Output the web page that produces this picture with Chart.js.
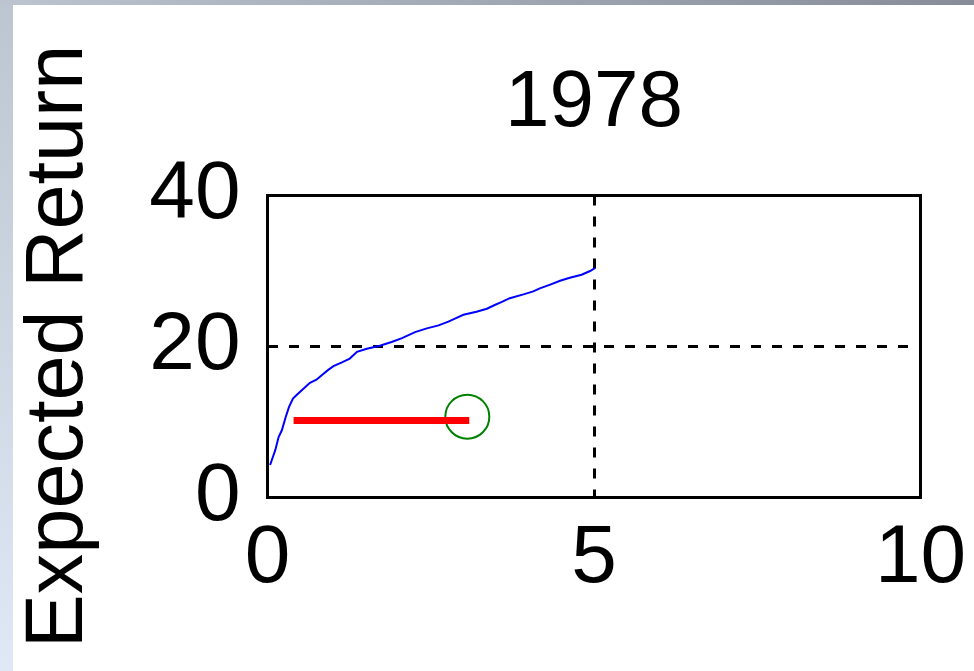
<!DOCTYPE html>
<html>
<head>
<meta charset="utf-8">
<script src="https://cdn.jsdelivr.net/npm/chart.js@4.4.1/dist/chart.umd.min.js"></script>
<style>
  html, body { margin: 0; padding: 0; width: 974px; height: 671px; overflow: hidden; background: #fff; }
  #leftEdge { position: absolute; left: 0; top: 0; width: 13px; height: 671px; background: linear-gradient(#bdc5d1, #dfe8f4); }
  #topEdge { position: absolute; left: 0; top: 0; width: 974px; height: 5px; background: linear-gradient(to right, #bcc4d0, #868d99); }
  #wrap { position: absolute; left: 13px; top: 5px; width: 961px; height: 666px; background: #fff; }
</style>
</head>
<body>
<div id="leftEdge"></div>
<div id="topEdge"></div>
<div id="wrap"><canvas id="myChart" width="961" height="666"></canvas></div>
<script>
// Efficient frontier for 1978 (risk vs expected return)
const frontierRisk = [0.04, 0.12, 0.17, 0.22, 0.28, 0.33, 0.39, 0.45, 0.55, 0.65, 0.75, 0.83, 0.93, 1.01,
  1.14, 1.26, 1.37, 1.52, 1.72, 1.90, 2.06, 2.26, 2.44, 2.62, 2.77, 2.87, 3.00, 3.20, 3.36, 3.48,
  3.59, 3.71, 3.92, 4.07, 4.17, 4.33, 4.48, 4.63, 4.81, 4.94, 5.02];
const frontierReturn = [4.3, 6.3, 8.0, 8.9, 10.7, 12.0, 13.1, 13.6, 14.4, 15.2, 15.6, 16.2, 16.9, 17.4,
  17.9, 18.4, 19.3, 19.7, 20.1, 20.6, 21.1, 21.9, 22.4, 22.8, 23.3, 23.7, 24.2, 24.6, 25.0, 25.5,
  25.9, 26.4, 26.9, 27.3, 27.7, 28.2, 28.7, 29.1, 29.5, 30.0, 30.4];

// Red segment
const segmentRisk = [0.40, 3.09];
const segmentReturn = [10.2, 10.2];

// Green marker
const markerRisk = [3.06];
const markerReturn = [10.7];

const chartTitle = "1978";
const yLabel = "Expected Return";
const xTicks = [0, 5, 10];
const yTicks = [0, 20, 40];

const fontFamily = "'Liberation Sans', Arial, sans-serif";

function toPoints(xs, ys) {
    return xs.map((x, i) => ({ x: x, y: ys[i] }));
}

// Draws the black box around the plot area
const frameBox = {
    id: "frameBox",
    beforeDatasetsDraw(chart) {
        const { ctx, scales } = chart;
        const x0 = scales.x.getPixelForValue(scales.x.min);
        const x1 = scales.x.getPixelForValue(scales.x.max);
        const y0 = scales.y.getPixelForValue(scales.y.max);
        const y1 = scales.y.getPixelForValue(scales.y.min);
        ctx.save();
        ctx.strokeStyle = "#000";
        ctx.lineWidth = 3;
        ctx.strokeRect(x0, y0, x1 - x0, y1 - y0);
        ctx.restore();
    }
};

const chartData = {
    datasets: [
        {
            data: toPoints(frontierRisk, frontierReturn),
            showLine: true,
            borderColor: "#0000ff",
            borderWidth: 2,
            pointRadius: 0,
            fill: false
        },
        {
            data: toPoints(segmentRisk, segmentReturn),
            showLine: true,
            borderColor: "#ff0000",
            borderWidth: 7,
            pointRadius: 0,
            fill: false
        },
        {
            data: toPoints(markerRisk, markerReturn),
            showLine: false,
            pointStyle: "circle",
            pointRadius: 22,
            pointBorderWidth: 2,
            pointBorderColor: "#008000",
            pointBackgroundColor: "rgba(0,0,0,0)"
        }
    ]
};

const config = {
    type: "scatter",
    data: chartData,
    options: {
        responsive: false,
        animation: false,
        devicePixelRatio: 1,
        events: [],
        layout: { padding: { left: 0, right: 53.5, top: 0, bottom: 0 } },
        plugins: {
            legend: { display: false },
            tooltip: { enabled: false },
            title: {
                display: true,
                fullSize: false,
                text: chartTitle,
                color: "#000",
                font: { family: fontFamily, size: 80, weight: "normal", lineHeight: 1 },
                padding: { top: 59, bottom: 51.5 }
            }
        },
        scales: {
            x: {
                type: "linear",
                min: 0,
                max: 10,
                afterBuildTicks: scale => { scale.ticks = xTicks.map(v => ({ value: v })); },
                afterFit: scale => {
                    scale.height = 173.5;
                    scale.paddingLeft = 0;
                    scale.paddingRight = 0;
                },
                ticks: {
                    color: "#000",
                    padding: 20.5,
                    font: { family: fontFamily, size: 82, lineHeight: 1 }
                },
                grid: { color: "#000", lineWidth: 3, drawTicks: false },
                border: { display: false, dash: [10, 11] }
            },
            y: {
                type: "linear",
                min: 0,
                max: 40,
                afterBuildTicks: scale => { scale.ticks = yTicks.map(v => ({ value: v })); },
                afterFit: scale => {
                    scale.width = 254.5;
                    scale.paddingTop = 0;
                    scale.paddingBottom = 0;
                },
                ticks: {
                    color: "#000",
                    padding: 27,
                    font: { family: fontFamily, size: 82, lineHeight: 1 }
                },
                title: {
                    display: true,
                    text: yLabel,
                    color: "#000",
                    font: { family: fontFamily, size: 81, lineHeight: 1 },
                    padding: { top: 6, bottom: 0 }
                },
                grid: { color: "#000", lineWidth: 3, drawTicks: false },
                border: { display: false, dash: [10, 11] }
            }
        }
    },
    plugins: [frameBox]
};

var myChart = new Chart(document.getElementById("myChart"), config);
</script>
</body>
</html>
